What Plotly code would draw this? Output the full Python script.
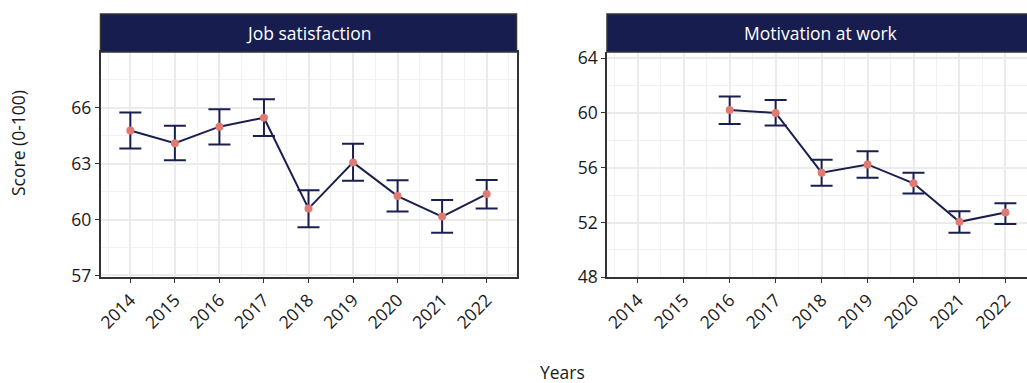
import plotly.graph_objects as go

# Survey years
years = [2014, 2015, 2016, 2017, 2018, 2019, 2020, 2021, 2022]

# Job satisfaction: mean score with confidence bounds
job_mean = [64.78, 64.10, 64.99, 65.47, 60.59, 63.07, 61.26, 60.16, 61.37]
job_upper = [65.75, 65.04, 65.93, 66.46, 61.58, 64.07, 62.11, 61.05, 62.13]
job_lower = [63.82, 63.18, 64.03, 64.49, 59.59, 62.08, 60.43, 59.29, 60.59]

# Motivation at work: only measured from 2016 onward
mot_years = [2016, 2017, 2018, 2019, 2020, 2021, 2022]
mot_mean = [60.22, 60.00, 55.64, 56.24, 54.86, 52.05, 52.73]
mot_upper = [61.21, 60.95, 56.58, 57.21, 55.64, 52.82, 53.41]
mot_lower = [59.20, 59.08, 54.69, 55.27, 54.11, 51.25, 51.89]

panel_titles = ["Job satisfaction", "Motivation at work"]
job_ticks = [57, 60, 63, 66]
mot_ticks = [48, 52, 56, 60, 64]

W, H = 1027, 383
NAVY = "#171d4f"
LINE = "#1b1f50"
DOT = "#e07a73"
AX = "#333333"
TXT = "#1a1a1a"
FONT = "Open Sans"
FS = 17.5


def px_x(p):
    return p / W


def px_y(p):
    return 1 - p / H


panel_top, panel_bottom = 52, 277.3
strip_top = 14
left_dom = [px_x(100.5), px_x(516.5)]
right_dom = [px_x(607), 1.0]
y_dom = [px_y(panel_bottom), px_y(panel_top)]

fig = go.Figure()


def add_series(x, mean, upper, lower, xa, ya):
    plus = [u - m for u, m in zip(upper, mean)]
    minus = [m - l for m, l in zip(mean, lower)]
    fig.add_trace(go.Scatter(
        x=x, y=mean, xaxis=xa, yaxis=ya, mode="lines",
        line=dict(color=LINE, width=2),
        error_y=dict(type="data", symmetric=False, array=plus, arrayminus=minus,
                     color=LINE, thickness=2, width=11),
        hoverinfo="skip", showlegend=False,
    ))
    fig.add_trace(go.Scatter(
        x=x, y=mean, xaxis=xa, yaxis=ya, mode="markers",
        marker=dict(color=DOT, size=8),
        showlegend=False,
    ))


add_series(years, job_mean, job_upper, job_lower, "x", "y")
add_series(mot_years, mot_mean, mot_upper, mot_lower, "x2", "y2")

grid_major = "#ebebeb"
grid_minor = "#f1f1f1"


def xaxis_cfg(dom, rng, mirror):
    return dict(
        domain=dom, range=rng, tickvals=years, ticktext=[str(y) for y in years],
        tickangle=-45, ticks="outside", ticklen=4, tickwidth=1.3, tickcolor=AX,
        showline=True, linecolor=AX, linewidth=1.5, mirror=mirror,
        showgrid=True, gridcolor=grid_major, gridwidth=1.6,
        minor=dict(showgrid=True, gridcolor=grid_minor, gridwidth=1.1, dtick=1, tick0=2013.5),
        tickfont=dict(family=FONT, size=FS, color=TXT),
        zeroline=False, fixedrange=True, automargin=False,
    )


def yaxis_cfg(anchor, rng, ticks, minor_step, mirror):
    return dict(
        domain=y_dom, anchor=anchor, range=rng, tickvals=ticks,
        ticks="outside", ticklen=4, tickwidth=1.3, tickcolor=AX,
        showline=True, linecolor=AX, linewidth=1.5, mirror=mirror,
        showgrid=True, gridcolor=grid_major, gridwidth=1.6,
        minor=dict(showgrid=True, gridcolor=grid_minor, gridwidth=1.1,
                   dtick=minor_step, tick0=ticks[0]),
        tickfont=dict(family=FONT, size=FS, color=TXT),
        zeroline=False, fixedrange=True, automargin=False,
    )


fig.update_layout(
    width=W, height=H,
    margin=dict(l=0, r=0, t=0, b=0, autoexpand=False),
    paper_bgcolor="white", plot_bgcolor="white",
    xaxis=xaxis_cfg(left_dom, [2013.33, 2022.67], True) | dict(anchor="y"),
    yaxis=yaxis_cfg("x", [56.9, 69.0], job_ticks, 1.5, True),
    xaxis2=xaxis_cfg(right_dom, [2013.33, 2022.47], False) | dict(anchor="y2"),
    yaxis2=yaxis_cfg("x2", [48.0, 64.45], mot_ticks, 2, False),
    showlegend=False,
)

# Facet strips above each panel
shapes = []
annotations = []
for dom, title in zip([left_dom, right_dom], panel_titles):
    full_right = dom[1] if dom[1] < 1 else px_x(1036)
    shapes.append(dict(
        type="rect", xref="paper", yref="paper",
        x0=dom[0], x1=dom[1] + (0.01 if dom[1] >= 1 else 0),
        y0=px_y(panel_top), y1=px_y(strip_top),
        fillcolor=NAVY, line=dict(color=AX, width=1.5), layer="above",
    ))
    annotations.append(dict(
        text=title, xref="paper", yref="paper",
        x=(dom[0] + full_right) / 2,
        y=(px_y(panel_top) + px_y(strip_top)) / 2,
        xanchor="center", yanchor="middle", showarrow=False,
        font=dict(family=FONT, size=FS, color="white"),
    ))

annotations.append(dict(
    text="Score (0-100)", xref="paper", yref="paper",
    x=px_x(18), y=px_y(143), textangle=-90, showarrow=False,
    xanchor="center", yanchor="middle",
    font=dict(family=FONT, size=FS, color=TXT),
))
annotations.append(dict(
    text="Years", xref="paper", yref="paper",
    x=px_x(562), y=px_y(371.5), showarrow=False,
    xanchor="center", yanchor="middle",
    font=dict(family=FONT, size=FS, color=TXT),
))

fig.update_layout(shapes=shapes, annotations=annotations)

fig.write_html("out.html")
